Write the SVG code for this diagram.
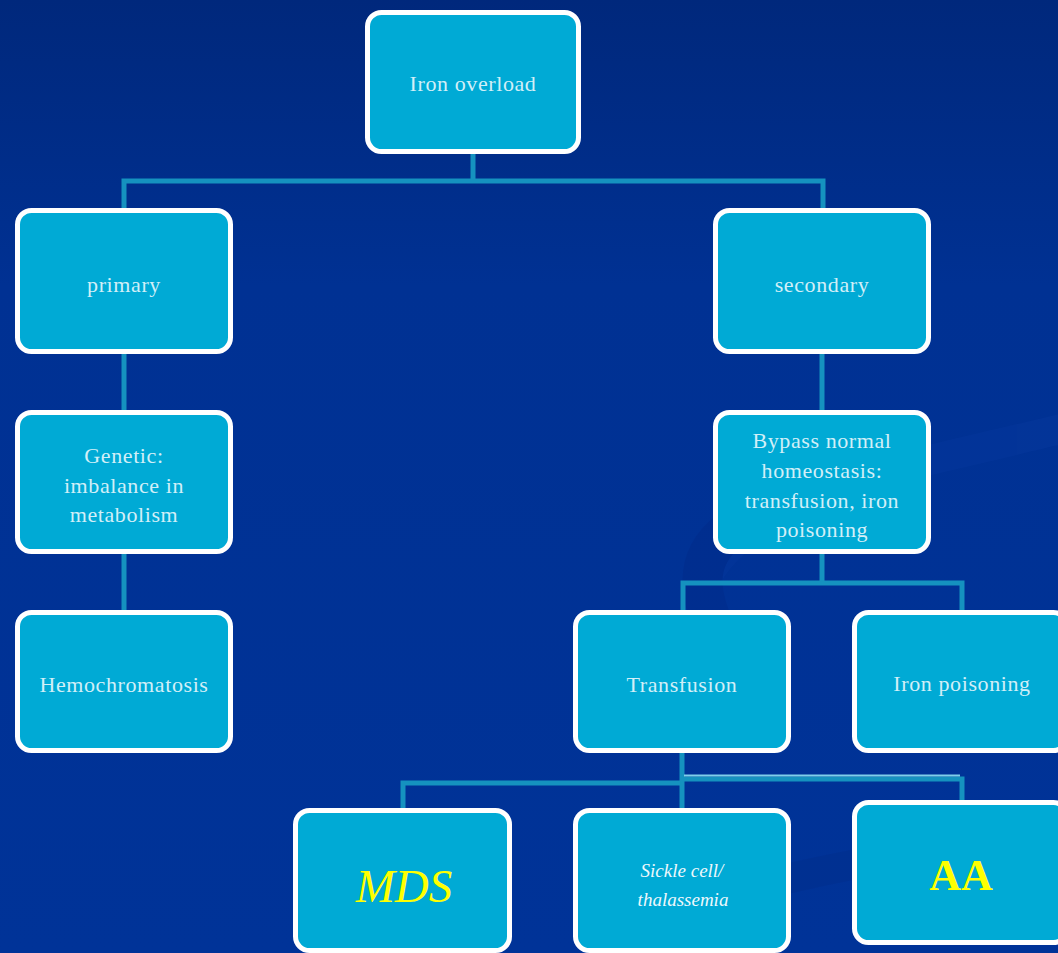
<svg xmlns="http://www.w3.org/2000/svg" width="1058" height="953" viewBox="0 0 1058 953">
<defs>
<linearGradient id="bg" x1="0" y1="0" x2="0" y2="1">
<stop offset="0" stop-color="#00287c"/>
<stop offset="0.3" stop-color="#003193"/>
<stop offset="1" stop-color="#003398"/>
</linearGradient>
<style>
.box{fill:#00aad5;stroke:#ffffff;stroke-width:5}
.con{fill:none;stroke:#1592bf;stroke-width:5}
.t{font-family:"Liberation Serif","Times New Roman",serif;font-size:22px;letter-spacing:0.6px;fill:#d2eff8;text-anchor:middle}
</style>
</defs>
<rect x="0" y="0" width="1058" height="953" fill="url(#bg)"/>
<g id="background-swoosh" fill="none" opacity="0.2">
<path d="M 700 620 C 690 560, 760 500, 930 460 S 1058 430, 1070 425" stroke="#0e3fa8" stroke-width="30"/>
<path d="M 720 640 C 700 600, 690 560, 730 530" stroke="#00207a" stroke-width="40"/>
<path d="M 700 900 C 760 885, 820 870, 880 860" stroke="#00267f" stroke-width="30"/>
</g>
<g id="connectors">
<path class="con" d="M 473 154 V 181 M 124 208 V 181 H 823 V 208"/>
<path class="con" d="M 124 354 V 410"/>
<path class="con" d="M 124 554 V 610"/>
<path class="con" d="M 822 354 V 410"/>
<path class="con" d="M 822 554 V 583 M 683 610 V 583 H 962 V 610"/>
<path class="con" d="M 682 753 V 808 M 403 808 V 783 H 682"/>
<path class="con" d="M 682 779 H 962 V 800"/>
<path d="M 684 775.5 H 960" stroke="#7fd0ea" stroke-width="2" fill="none"/>
</g>
<g id="node-iron-overload">
<rect class="box" x="367.5" y="12.5" width="211" height="139" rx="14"/>
<text class="t" x="473" y="91">Iron overload</text>
</g>
<g id="node-primary">
<rect class="box" x="17.5" y="210.5" width="213" height="141" rx="14"/>
<text class="t" x="124" y="292">primary</text>
</g>
<g id="node-secondary">
<rect class="box" x="715.5" y="210.5" width="213" height="141" rx="14"/>
<text class="t" x="822" y="292">secondary</text>
</g>
<g id="node-genetic">
<rect class="box" x="17.5" y="412.5" width="213" height="139" rx="14"/>
<text class="t" x="124" y="463">Genetic:</text>
<text class="t" x="124" y="493">imbalance in</text>
<text class="t" x="124" y="522">metabolism</text>
</g>
<g id="node-bypass">
<rect class="box" x="715.5" y="412.5" width="213" height="139" rx="14"/>
<text class="t" x="822" y="448">Bypass normal</text>
<text class="t" x="822" y="478">homeostasis:</text>
<text class="t" x="822" y="508">transfusion, iron</text>
<text class="t" x="822" y="537">poisoning</text>
</g>
<g id="node-hemochromatosis">
<rect class="box" x="17.5" y="612.5" width="213" height="138" rx="14"/>
<text class="t" x="124" y="692">Hemochromatosis</text>
</g>
<g id="node-transfusion">
<rect class="box" x="575.5" y="612.5" width="213" height="138" rx="14"/>
<text class="t" x="682" y="692">Transfusion</text>
</g>
<g id="node-iron-poisoning">
<rect class="box" x="854.5" y="612.5" width="213" height="138" rx="14"/>
<text class="t" x="962" y="691">Iron poisoning</text>
</g>
<g id="node-mds">
<rect class="box" x="295.5" y="810.5" width="214" height="140" rx="14"/>
<text x="404" y="902" font-family="Liberation Serif, serif" font-style="italic" font-size="47" fill="#ffff00" text-anchor="middle">MDS</text>
</g>
<g id="node-sickle">
<rect class="box" x="575.5" y="810.5" width="213" height="140" rx="14"/>
<text x="682" y="877" font-family="Liberation Serif, serif" font-style="italic" font-size="19" fill="#eef8fc" text-anchor="middle">Sickle cell/</text>
<text x="683" y="906" font-family="Liberation Serif, serif" font-style="italic" font-size="19" fill="#eef8fc" text-anchor="middle">thalassemia</text>
</g>
<g id="node-aa">
<rect class="box" x="854.5" y="802.5" width="213" height="140" rx="14"/>
<text x="961" y="890" font-family="Liberation Serif, serif" font-weight="bold" font-size="44" fill="#ffff00" text-anchor="middle">AA</text>
</g>
</svg>
